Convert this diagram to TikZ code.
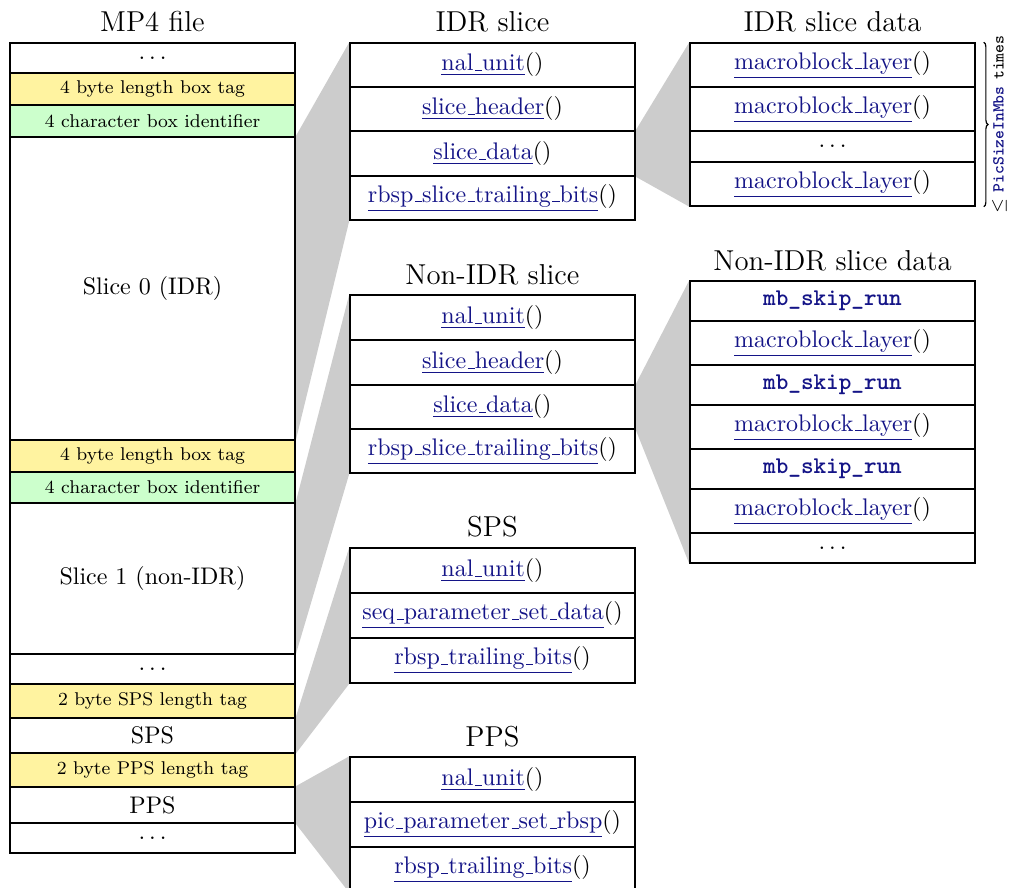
\documentclass[tikz,border=0pt]{standalone}
\usepackage{fontspec}
\usetikzlibrary{backgrounds,decorations.pathreplacing,calc}
\definecolor{tagyellow}{RGB}{255,243,160}
\definecolor{idgreen}{RGB}{204,255,204}
\definecolor{funnelgray}{RGB}{204,204,204}
\definecolor{linkc}{RGB}{20,20,135}
\newcommand\us{\leavevmode\kern.06em\vbox{\hrule width.3em}}
\newcommand\lk[1]{\textcolor{linkc}{\underline{#1}}}
\newcommand\kw[1]{\textcolor{linkc}{\ttfamily\bfseries #1}}
\newcommand\mydots{$\ldots$}
\def\px{0.416667pt}
\newcommand\rowcell[6]{\node[cell,#5,minimum height={(#4-#3)*\px}] (#1) at (#2,{(#3+#4)/2}) {#6};}
\begin{document}
\begin{tikzpicture}[x=\px,y=-\px,
  cell/.style={draw, line width=0.6pt, minimum width={285*\px}, inner sep=0pt,
    font=\fontsize{10}{12}\selectfont, fill=white},
  tag/.style={fill=tagyellow, font=\fontsize{7.7}{9}\selectfont},
  ident/.style={fill=idgreen, font=\fontsize{7.7}{9}\selectfont},
  title/.style={anchor=base, inner sep=0pt, font=\fontsize{12}{14}\selectfont},
  funnel/.style={fill=funnelgray},
  bracestyle/.style={decorate, decoration={brace, amplitude=1.8pt}, line width=0.5pt}]
\useasboundingbox (0,0) rectangle (1010,888);
% MP4 file
\node[title] (tmp4) at (152.5,32) {MP4 file};
\rowcell{m1}{152.5}{43}{73}{}{\mydots}
\rowcell{m2}{152.5}{73}{105}{tag}{4 byte length box tag}
\rowcell{m3}{152.5}{105}{137}{ident}{4 character box identifier}
\rowcell{m4}{152.5}{137}{440}{}{Slice 0 (IDR)}
\rowcell{m5}{152.5}{440}{472}{tag}{4 byte length box tag}
\rowcell{m6}{152.5}{472}{503}{ident}{4 character box identifier}
\rowcell{m7}{152.5}{503}{654}{}{Slice 1 (non-IDR)}
\rowcell{m8}{152.5}{654}{684}{}{\mydots}
\rowcell{m9}{152.5}{684}{718}{tag}{2 byte SPS length tag}
\rowcell{m10}{152.5}{718}{753}{}{SPS}
\rowcell{m11}{152.5}{753}{787}{tag}{2 byte PPS length tag}
\rowcell{m12}{152.5}{787}{823}{}{PPS}
\rowcell{m13}{152.5}{823}{853}{}{\mydots}
% IDR slice
\node[title] (tidr) at (492.5,32) {IDR slice};
\rowcell{a1}{492.5}{43}{87}{}{\lk{nal\us unit}()}
\rowcell{a2}{492.5}{87}{131}{}{\lk{slice\us header}()}
\rowcell{a3}{492.5}{131}{176}{}{\lk{slice\us data}()}
\rowcell{a4}{492.5}{176}{220}{}{\lk{rbsp\us slice\us trailing\us bits}()}
% Non-IDR slice
\node[title] (tnidr) at (492.5,285) {Non-IDR slice};
\rowcell{b1}{492.5}{295}{340}{}{\lk{nal\us unit}()}
\rowcell{b2}{492.5}{340}{385}{}{\lk{slice\us header}()}
\rowcell{b3}{492.5}{385}{429}{}{\lk{slice\us data}()}
\rowcell{b4}{492.5}{429}{473}{}{\lk{rbsp\us slice\us trailing\us bits}()}
% SPS
\node[title] (tsps) at (492.5,537) {SPS};
\rowcell{c1}{492.5}{548}{593}{}{\lk{nal\us unit}()}
\rowcell{c2}{492.5}{593}{638}{}{\lk{seq\us parameter\us set\us data}()}
\rowcell{c3}{492.5}{638}{683}{}{\lk{rbsp\us trailing\us bits}()}
% PPS
\node[title] (tpps) at (492.5,747) {PPS};
\rowcell{d1}{492.5}{757}{802}{}{\lk{nal\us unit}()}
\rowcell{d2}{492.5}{802}{847}{}{\lk{pic\us parameter\us set\us rbsp}()}
\rowcell{d3}{492.5}{847}{892}{}{\lk{rbsp\us trailing\us bits}()}
% IDR slice data
\node[title] (tidrd) at (832.5,32) {IDR slice data};
\rowcell{e1}{832.5}{43}{87}{}{\lk{macroblock\us layer}()}
\rowcell{e2}{832.5}{87}{131}{}{\lk{macroblock\us layer}()}
\rowcell{e3}{832.5}{131}{162}{}{\mydots}
\rowcell{e4}{832.5}{162}{206}{}{\lk{macroblock\us layer}()}
% Non-IDR slice data
\node[title] (tnidrd) at (832.5,271) {Non-IDR slice data};
\rowcell{f1}{832.5}{281}{321}{}{\kw{mb\_skip\_run}}
\rowcell{f2}{832.5}{321}{365}{}{\lk{macroblock\us layer}()}
\rowcell{f3}{832.5}{365}{405}{}{\kw{mb\_skip\_run}}
\rowcell{f4}{832.5}{405}{449}{}{\lk{macroblock\us layer}()}
\rowcell{f5}{832.5}{449}{489}{}{\kw{mb\_skip\_run}}
\rowcell{f6}{832.5}{489}{533}{}{\lk{macroblock\us layer}()}
\rowcell{f7}{832.5}{533}{563}{}{\mydots}
% brace
\draw[bracestyle] ([xshift=8*\px]e1.north east) -- ([xshift=8*\px]e4.south east);
\node[rotate=90, anchor=north, inner sep=0pt, font=\fontsize{7}{8}\selectfont] (bt)
  at ($([xshift=16*\px]e1.north east)!0.5!([xshift=16*\px]e4.south east)$)
  {$\leq$ \kw{PicSizeInMbs} \texttt{times}};
% funnels
\begin{pgfonlayer}{background}
\fill[funnel] (m4.north east) -- (a1.north west) -- (a4.south west) -- (m4.south east) -- cycle;
\fill[funnel] (m7.north east) -- (b1.north west) -- (b4.south west) -- (m7.south east) -- cycle;
\fill[funnel] (m10.north east) -- (c1.north west) -- (c3.south west) -- (m10.south east) -- cycle;
\fill[funnel] (m12.north east) -- (d1.north west) -- (d3.south west) -- (m12.south east) -- cycle;
\fill[funnel] (a3.north east) -- (e1.north west) -- (e4.south west) -- (a3.south east) -- cycle;
\fill[funnel] (b3.north east) -- (f1.north west) -- (f7.south west) -- (b3.south east) -- cycle;
\end{pgfonlayer}
\end{tikzpicture}
\end{document}
